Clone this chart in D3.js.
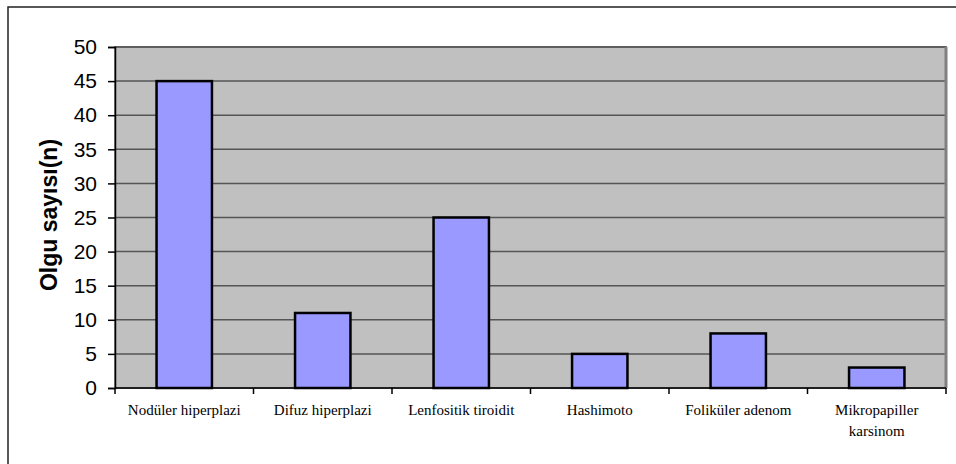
<!DOCTYPE html>
<html>
<head>
<meta charset="utf-8">
<script src="https://cdn.jsdelivr.net/npm/d3@7"></script>
<style>
  body { margin: 0; background: #fff; }
  svg { display: block; }
</style>
</head>
<body>
<svg width="956" height="464"></svg>
<script>
var categories = ["Nodüler hiperplazi", "Difuz hiperplazi", "Lenfositik tiroidit", "Hashimoto", "Foliküler adenom", "Mikropapiller karsinom"];
var values = [45, 11, 25, 5, 8, 3];
var yTicks = [0, 5, 10, 15, 20, 25, 30, 35, 40, 45, 50];

var svg = d3.select("svg"),
    margin = {top: 47, right: 10, bottom: 76, left: 115},
    width = 946 - margin.left,
    height = 388 - margin.top;

// outer chart border (clipped at right and bottom)
svg.append("rect")
    .attr("x", 8).attr("y", 7)
    .attr("width", 1000).attr("height", 1000)
    .attr("fill", "none")
    .attr("stroke", "#222")
    .attr("stroke-width", 1.5);

var xScale = d3.scaleBand()
    .domain(categories)
    .range([0, width])
    .paddingInner(0.6)
    .paddingOuter(0.3);

var xOuter = d3.scaleBand()
    .domain(categories)
    .range([0, width]);

var yScale = d3.scaleLinear()
    .domain([0, 50])
    .range([height, 0]);

var g = svg.append("g")
    .attr("transform", "translate(" + margin.left + "," + margin.top + ")");

g.append("rect")
    .attr("width", width)
    .attr("height", height)
    .attr("fill", "#c0c0c0")
    .attr("stroke", "#808080")
    .attr("stroke-width", 2);

// gridlines
g.selectAll(".grid")
    .data(yTicks.filter(function(d) { return d > 0; }))
    .enter().append("line")
    .attr("x1", 0).attr("x2", width)
    .attr("y1", function(d) { return yScale(d); })
    .attr("y2", function(d) { return yScale(d); })
    .attr("stroke", "#555")
    .attr("stroke-width", 1.5);

// right edge thicker
g.append("line")
    .attr("x1", width).attr("x2", width)
    .attr("y1", 0).attr("y2", height)
    .attr("stroke", "#808080")
    .attr("stroke-width", 3);

// bars
g.selectAll(".bar")
    .data(values)
    .enter().append("rect")
    .attr("class", "bar")
    .attr("x", function(d, i) { return xScale(categories[i]); })
    .attr("y", function(d) { return yScale(d); })
    .attr("width", xScale.bandwidth())
    .attr("height", function(d) { return height - yScale(d); })
    .attr("fill", "#9999ff")
    .attr("stroke", "#000")
    .attr("stroke-width", 2.5);

// y axis
var yAxis = g.append("g")
    .call(d3.axisLeft(yScale).tickValues(yTicks).tickSize(7).tickPadding(11));
yAxis.select(".domain").attr("stroke", "#000").attr("stroke-width", 1.5);
yAxis.selectAll(".tick line").attr("stroke", "#000").attr("stroke-width", 1.5);
yAxis.selectAll("text")
    .attr("font-family", "'Liberation Sans', Arial, sans-serif")
    .attr("font-size", "21px")
    .attr("fill", "#000");

// x axis
var xAxisG = g.append("g").attr("transform", "translate(0," + height + ")");
xAxisG.append("line")
    .attr("x1", 0).attr("x2", width)
    .attr("stroke", "#000").attr("stroke-width", 1.5);
xAxisG.selectAll(".xtick")
    .data(d3.range(categories.length + 1))
    .enter().append("line")
    .attr("x1", function(i) { return i * xOuter.step(); })
    .attr("x2", function(i) { return i * xOuter.step(); })
    .attr("y1", 0).attr("y2", 6)
    .attr("stroke", "#000").attr("stroke-width", 1.5);

var labels = xAxisG.selectAll(".xlabel")
    .data(categories)
    .enter().append("text")
    .attr("x", function(d) { return xOuter(d) + xOuter.bandwidth() / 2; })
    .attr("y", 27)
    .attr("text-anchor", "middle")
    .attr("font-family", "'Liberation Serif', 'Times New Roman', serif")
    .attr("font-size", "15px")
    .attr("fill", "#000");

labels.each(function(d) {
    var t = d3.select(this);
    var lines = d === "Mikropapiller karsinom" ? ["Mikropapiller", "karsinom"] : [d];
    lines.forEach(function(l, i) {
        t.append("tspan")
            .attr("x", t.attr("x"))
            .attr("dy", i === 0 ? 0 : 21)
            .text(l);
    });
});

// y axis label
svg.append("text")
    .attr("transform", "rotate(-90)")
    .attr("x", -215)
    .attr("y", 57)
    .attr("text-anchor", "middle")
    .attr("font-family", "'Liberation Sans', Arial, sans-serif")
    .attr("font-weight", "bold")
    .attr("font-size", "23px")
    .text("Olgu sayısı(n)");
</script>
</body>
</html>
